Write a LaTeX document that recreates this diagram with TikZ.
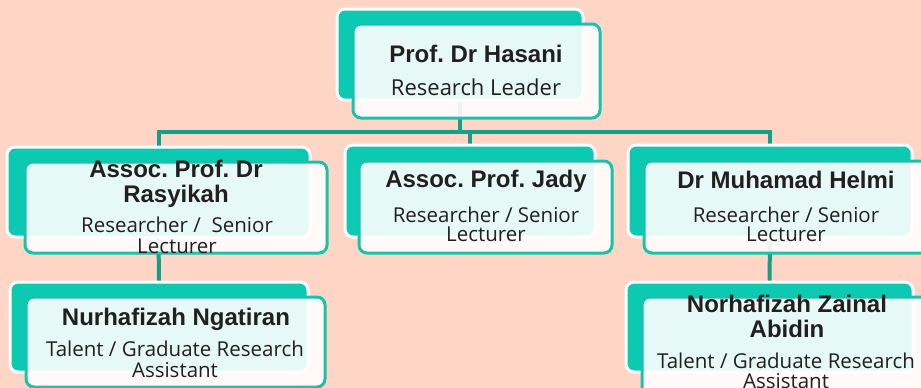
\documentclass[tikz,border=0pt]{standalone}
\usepackage{fontspec}
\usetikzlibrary{backgrounds}
\setmainfont{Open Sans}
\newfontfamily\namefont{Liberation Sans}
\frenchspacing
\definecolor{peach}{HTML}{FFD6C6}
\definecolor{cardteal}{HTML}{0CC9B1}
\definecolor{edgeteal}{HTML}{17C3AB}
\definecolor{linkteal}{HTML}{139F89}
\definecolor{ink}{HTML}{231F20}
\tikzset{
  backcard/.style={rectangle, draw=white, line width=3pt, fill=cardteal, rounded corners=8pt, inner sep=0pt},
  frontcard/.style={rectangle, draw=edgeteal, line width=3pt, fill=white, fill opacity=0.9, draw opacity=1, rounded corners=8pt, inner sep=0pt},
  conn/.style={draw=linkteal, line width=4pt},
  nametext/.style={font=\namefont\bfseries\fontsize{24}{25}\selectfont, text=ink, align=center, inner sep=0pt, anchor=base},
  roletext/.style={font=\fontsize{20.5}{20}\selectfont, text=ink, align=center, inner sep=0pt, anchor=base},
}
\begin{document}
\begin{tikzpicture}[x=1pt,y=-1pt]
  \useasboundingbox (0,0) rectangle (921,388);
  \begin{scope}[on background layer]
    \fill[peach] (0,0) rectangle (921,388);
  \end{scope}

  % back cards
  \node[backcard, minimum width=246pt, minimum height=91pt] (top) at (460,54.5) {};
  \node[backcard, minimum width=303pt, minimum height=90pt] (left) at (158.5,192) {};
  \node[backcard, minimum width=250pt, minimum height=92pt] (mid) at (470,191) {};
  \node[backcard, minimum width=284pt, minimum height=92pt] (right) at (770,191) {};
  \node[backcard, minimum width=298pt, minimum height=90pt] (bl) at (159,327) {};
  \node[backcard, minimum width=287pt, minimum height=90pt] (br) at (769.5,327) {};

  % connectors, kept beneath the cards
  \coordinate (bus) at (0,132);
  \begin{scope}[on background layer]
    \path[conn] (top.center) -- (top.center |- bus);
    \path[conn] (left.center) |- (right.center |- bus) -- (right.center);
    \path[conn] (mid.center |- bus) -- (mid.center);
    \path[conn] (left.center) -- (bl.center);
    \path[conn] (right.center) -- (br.center);
  \end{scope}

  % front cards
  \node[frontcard, minimum width=247pt, minimum height=94pt] (topf) at (476.5,71) {};
  \node[frontcard, minimum width=302pt, minimum height=91pt] (leftf) at (176,207.5) {};
  \node[frontcard, minimum width=253pt, minimum height=92pt] (midf) at (485.5,207) {};
  \node[frontcard, minimum width=291pt, minimum height=92pt] (rightf) at (789.5,207) {};
  \node[frontcard, minimum width=299pt, minimum height=90pt] (blf) at (175.5,342) {};
  \node[frontcard, minimum width=293pt, minimum height=98pt] (brf) at (788.5,346) {};

  % texts (anchored at the baseline of their last line)
  \node[nametext] (topn) at (476,62) {Prof. Dr Hasani};
  \node[roletext, font=\fontsize{22}{22}\selectfont] (topr) at (476,95) {Research Leader};
  \node[nametext] (leftn) at (176,202) {Assoc. Prof. Dr\\Rasyikah};
  \node[roletext, font=\fontsize{20.5}{21}\selectfont] (leftr) at (177,253) {Researcher /\ \ Senior\\Lecturer};
  \node[nametext] (midn) at (486,187) {Assoc. Prof. Jady};
  \node[roletext, font=\fontsize{20.5}{19}\selectfont] (midr) at (486,241) {Researcher / Senior\\Lecturer};
  \node[nametext] (rightn) at (786,188) {Dr Muhamad Helmi};
  \node[roletext, font=\fontsize{20.5}{19}\selectfont] (rightr) at (786,241) {Researcher / Senior\\Lecturer};
  \node[nametext] (bln) at (176,325) {Nurhafizah Ngatiran};
  \node[roletext, font=\fontsize{20.5}{21}\selectfont] (blr) at (175,377) {Talent / Graduate Research\\Assistant};
  \node[nametext] (brn) at (787,337) {Norhafizah Zainal\\Abidin};
  \node[roletext, font=\fontsize{20.5}{20}\selectfont] (brr) at (786,388) {Talent / Graduate Research\\Assistant};
\end{tikzpicture}
\end{document}
